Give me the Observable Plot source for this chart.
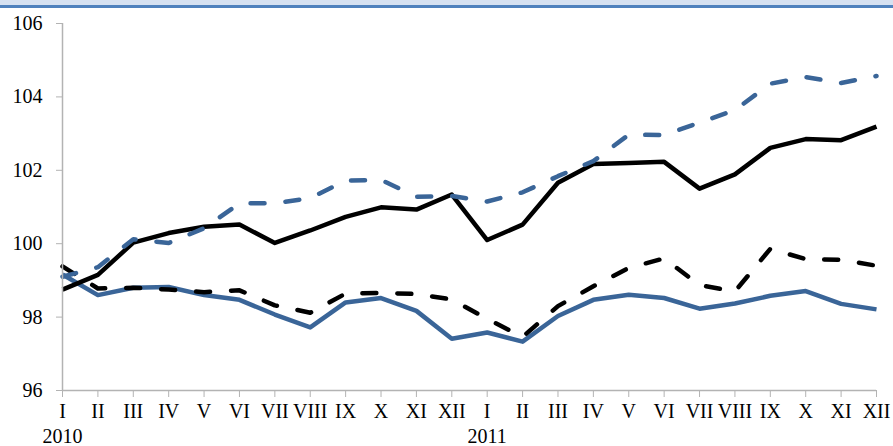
<!DOCTYPE html>
<html>
<head>
<meta charset="utf-8">
<script src="https://cdn.jsdelivr.net/npm/d3@7"></script>
<script src="https://cdn.jsdelivr.net/npm/@observablehq/plot@0.6"></script>
<style>
  html, body { margin: 0; padding: 0; background: #fff; }
  #wrap { position: relative; width: 893px; height: 446px; overflow: hidden; }
  #band { position: absolute; left: 0; top: 0; width: 893px; height: 5px; background: #d6e1f1; }
  #rule { position: absolute; left: 0; top: 5px; width: 893px; height: 3px; background: #4f81bd; }
  #chart { position: absolute; left: 0; top: 0; }
</style>
</head>
<body>
<div id="wrap"><div id="chart"></div><div id="band"></div><div id="rule"></div></div>
<script>
const months = ["I","II","III","IV","V","VI","VII","VIII","IX","X","XI","XII",
                "I","II","III","IV","V","VI","VII","VIII","IX","X","XI","XII"];
const yearLabels = ["2010", "2011"];
const yearIndex = [0, 12];
const yTicks = [96, 98, 100, 102, 104, 106];

const blackSolid = [98.75, 99.15, 100.03, 100.29, 100.46, 100.52, 100.02, 100.36, 100.73, 100.99, 100.93, 101.34,
                    100.1, 100.52, 101.66, 102.17, 102.2, 102.23, 101.5, 101.89, 102.61, 102.85, 102.82, 103.19];
const blackDashed = [99.38, 98.78, 98.8, 98.75, 98.68, 98.73, 98.32, 98.12, 98.64, 98.66, 98.63, 98.48,
                     97.95, 97.46, 98.3, 98.84, 99.34, 99.6, 98.87, 98.7, 99.86, 99.58, 99.56, 99.4];
const blueSolid = [99.16, 98.6, 98.8, 98.82, 98.6, 98.47, 98.07, 97.72, 98.4, 98.52, 98.17, 97.41,
                   97.58, 97.33, 98.03, 98.47, 98.61, 98.52, 98.23, 98.37, 98.58, 98.71, 98.36, 98.21];
const blueDashed = [99.1, 99.36, 100.12, 100.02, 100.42, 101.1, 101.1, 101.24, 101.72, 101.74, 101.28, 101.3,
                    101.15, 101.4, 101.84, 102.25, 102.97, 102.96, 103.3, 103.64, 104.36, 104.54, 104.38, 104.57];

const series = [
  {name: "blackSolid", values: blackSolid, color: "#000000", dash: null},
  {name: "blackDashed", values: blackDashed, color: "#000000", dash: "14,21"},
  {name: "blueSolid", values: blueSolid, color: "#3a6598", dash: null},
  {name: "blueDashed", values: blueDashed, color: "#3a6598", dash: "14,21"}
];

const font = "'Liberation Serif', 'DejaVu Serif', serif";

const marks = [];
// draw order: blue solid, black dashed, black solid, blue dashed
for (const s of [series[2], series[1], series[0], series[3]]) {
  const data = s.values.map((v, i) => ({i, v}));
  marks.push(Plot.line(data, {
    x: "i", y: "v", stroke: s.color, strokeWidth: 4.5,
    strokeDasharray: s.dash || undefined,
    strokeLinecap: s.dash ? "round" : "butt",
    strokeLinejoin: "round"
  }));
}

marks.push(Plot.axisY({
  ticks: yTicks, tickSize: 6, tickPadding: 14, stroke: "#b3b3b3",
  fill: "#000", fontSize: 20, label: null
}));
marks.push(Plot.ruleX([0], {y1: 96, y2: 106, stroke: "#b3b3b3", strokeWidth: 1.5}));
marks.push(Plot.axisX({
  ticks: d3.range(24), tickFormat: i => months[i], tickSize: 7, tickPadding: 6,
  stroke: "#b3b3b3", fill: "#000", fontSize: 20, label: null
}));
marks.push(Plot.ruleY([96], {x1: 0, x2: 23, stroke: "#b3b3b3", strokeWidth: 1.5}));
marks.push(Plot.text(yearLabels.map((t, k) => ({t, i: yearIndex[k]})), {
  x: "i", y: () => 96, text: "t", dy: 52, lineAnchor: "bottom",
  fontSize: 20, fill: "#000", clip: false
}));

const chart = Plot.plot({
  width: 893, height: 446,
  marginTop: 23, marginBottom: 56, marginLeft: 62, marginRight: 17,
  style: {fontFamily: font, background: "transparent", overflow: "visible"},
  x: {type: "linear", domain: [0, 23]},
  y: {domain: [96, 106]},
  marks
});
document.getElementById("chart").appendChild(chart);
</script>
</body>
</html>
